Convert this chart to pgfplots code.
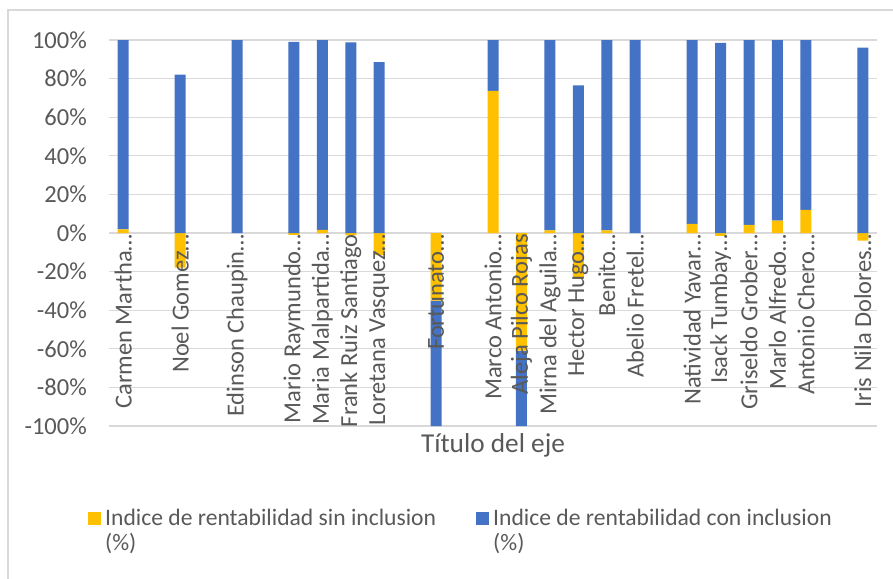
\documentclass[border=0pt]{standalone}
\usepackage{pgfplots}
\pgfplotsset{compat=1.18}
\usepackage{pgfplotstable}
\usepackage{fontspec}
\setmainfont{Carlito}
\definecolor{cYel}{HTML}{FFC000}
\definecolor{cBlu}{HTML}{4472C4}
\definecolor{cGrid}{HTML}{D9D9D9}
\definecolor{cTxt}{HTML}{595959}

% positive parts (stacked upward from 0)
\pgfplotstableread{
x yellow blue
0 1.9 98.1
2 0 82
4 0 100
6 0 99
7 1.6 98.4
8 0 98.8
9 0 88.5
13 73.6 26.4
15 1.4 98.6
16 0 76.5
17 1.4 98.6
18 0 100
20 4.7 95.3
21 0 98.5
22 4.2 95.8
23 6.4 93.6
24 12 88
26 0 96
}\postable
% negative parts (stacked downward from 0)
\pgfplotstableread{
x yellow blue
2 -18 0
6 -1 0
8 -1.2 0
9 -11.5 0
11 -35 -65
14 -61 -39
16 -23.5 0
21 -1.5 0
26 -4 0
}\negtable

\pgfplotsset{
  base/.style={
    scale only axis, width=768pt, height=386pt,
    at={(109pt,-426pt)}, anchor=south west,
    xmin=-0.5, xmax=26.5, ymin=-100, ymax=100,
    axis line style={draw=none}, major tick length=0pt, tick style={draw=none},
    ybar stacked, bar width=11pt,
  },
  sq legend/.style={legend image code/.code={\fill[##1] (0pt,-4.5pt) rectangle (13pt,8.5pt);}},
}

\begin{document}
\begin{tikzpicture}
\draw[cGrid, line width=1.2pt] (8pt,-580pt) -- (8pt,-10pt) -- (895pt,-10pt);
\begin{axis}[base,
  ymajorgrids, grid style={cGrid, line width=1.2pt},
  xtick=\empty,
  ytick={-100,-80,-60,-40,-20,0,20,40,60,80,100},
  yticklabels={-100\%,-80\%,-60\%,-40\%,-20\%,0\%,20\%,40\%,60\%,80\%,100\%},
  yticklabel style={anchor=east, inner sep=0pt, font=\fontsize{24.5}{29}\selectfont, text=cTxt},
  yticklabel shift=22pt,
]
\addplot[fill=cYel, draw=none] table[x=x, y=yellow]{\negtable};
\addplot[fill=cBlu, draw=none] table[x=x, y=blue]{\negtable};
\end{axis}
\begin{axis}[base,
  ytick=\empty,
  xtick={0,2,4,6,7,8,9,11,13,14,15,16,17,18,20,21,22,23,24,26},
  xticklabels={Carmen Martha…,Noel Gomez…,Edinson Chaupin…,Mario Raymundo…,Maria Malpartida…,Frank Ruiz Santiago,Loretana Vasquez…,Fortunato…,Marco Antonio…,Aleja Pilco Rojas,Mirna del Aguila…,Hector Hugo…,Benito…,Abelio Fretel…,Natividad Yavar…,Isack Tumbay…,Griseldo Grober…,Marlo Alfredo…,Antonio Chero…,Iris Nila Dolores…},
  xticklabel style={rotate=90, anchor=east, inner sep=0pt, font=\fontsize{24.5}{29}\selectfont, text=cTxt},
  xticklabel shift=-192pt,
  xlabel={Título del eje},
  xlabel style={at={(axis description cs:0.5,-0.0492)}, anchor=center, font=\fontsize{27.3}{32}\selectfont, text=cTxt},
  legend cell align=left,
  legend columns=2,
  legend style={draw=none, fill=none, inner sep=0pt,
    at={(axis description cs:-0.02734,-0.2124)}, anchor=north west,
    font=\fontsize{23.6}{28}\selectfont, text=cTxt,
    /tikz/every odd column/.append style={column sep=4pt},
    /tikz/every even column/.append style={column sep=40pt},
    nodes={text height=17pt, text depth=8pt, inner sep=0pt}},
]
\addplot[fill=cYel, draw=none, sq legend] table[x=x, y=yellow]{\postable};
\addlegendentry{Indice de rentabilidad sin inclusion}
\addplot[fill=cBlu, draw=none, sq legend] table[x=x, y=blue]{\postable};
\addlegendentry{Indice de rentabilidad con inclusion}
\addlegendimage{empty legend}
\addlegendentry{(\%)}
\addlegendimage{empty legend}
\addlegendentry{(\%)}
\end{axis}
\pgfresetboundingbox
\useasboundingbox (0pt,0pt) rectangle (893pt,-578pt);
\end{tikzpicture}
\end{document}
